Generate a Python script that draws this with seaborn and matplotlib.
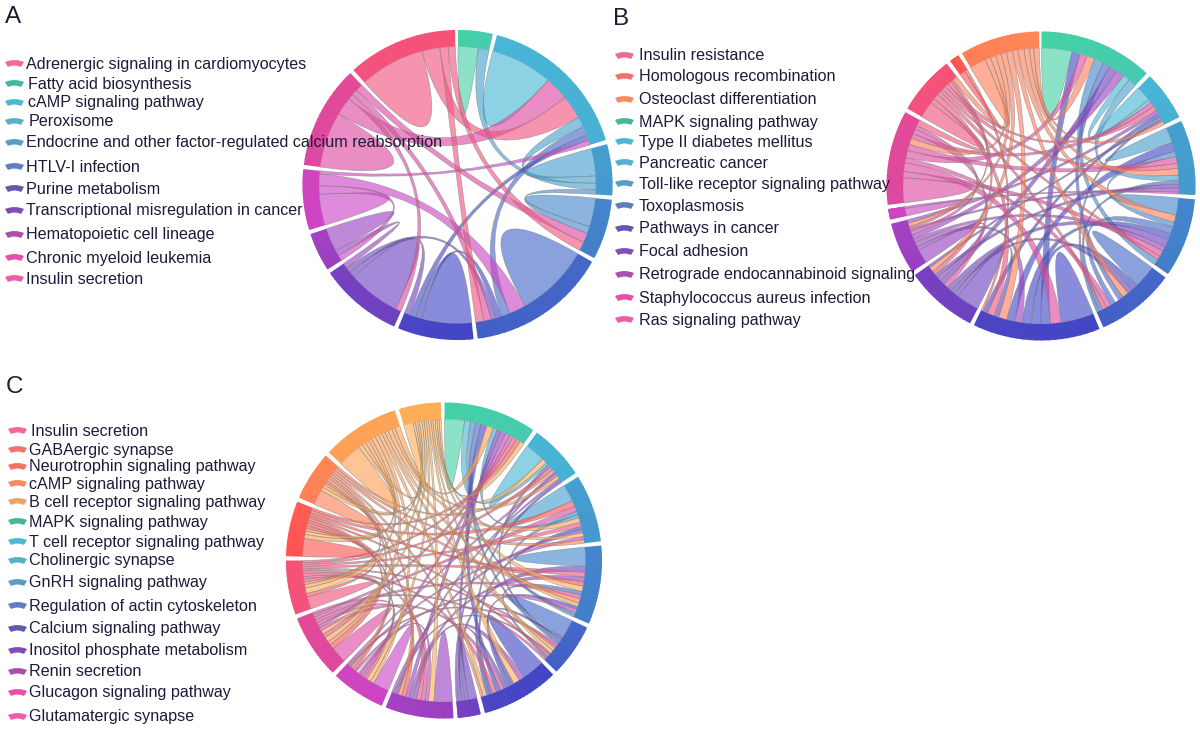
import numpy as np
import seaborn as sns
import matplotlib.pyplot as plt
from matplotlib.path import Path
from matplotlib.patches import PathPatch

sns.set_theme(style='white')
plt.rcParams['font.family'] = ['Liberation Sans', 'DejaVu Sans']

wheel = ['#45D1A5', '#48B6D6', '#459FCF', '#4486CB', '#4468C8', '#4146C5', '#6D41C1', '#9840C1',
         '#CC44C6', '#DD48A0', '#F2527F', '#FF5252', '#FF7F57', '#FFA056', '#FFAE57']
legend_tail = ['#46B79B', '#4CBACE', '#5AB0CB', '#5C9BC3', '#5F7EBF', '#5D5BAE', '#7F4FB3', '#AB50A8', '#E650A8',
               '#EC5FA8']

# panel A
labels_a = ['Adrenergic signaling in cardiomyocytes', 'Fatty acid biosynthesis', 'cAMP signaling pathway',
            'Peroxisome', 'Endocrine and other factor-regulated calcium reabsorption', 'HTLV-I infection',
            'Purine metabolism', 'Transcriptional misregulation in cancer', 'Hematopoietic cell lineage',
            'Chronic myeloid leukemia', 'Insulin secretion']
sizes_a = [13, 58.4, 19.2, 22.7, 52.8, 28.5, 31.3, 14.6, 22.8, 38.8, 41.3]
slots_a = [
    [(0, 8.5), (2, 4.5)],
    [(1, 26), (9, 10), (10, 10), (2, 4.3), (4, 3.7), (5, 2.3), (8, 2)],
    [(2, 11.5), (1, 3), (0, 2.7), (3, 2)],
    [(3, 12), (2, 3), (9, 4), (10, 3.7)],
    [(4, 31), (8, 7), (1, 3.7), (5, 2.5), (6, 2), (9, 3), (10, 3.5)],
    [(5, 21), (4, 2.5), (1, 2.5), (6, 2.5)],
    [(9, 2.5), (6, 22), (5, 2.3), (4, 2.3), (7, 2.2)],
    [(8, 2.4), (6, 2.2), (7, 10)],
    [(8, 13), (7, 3.5), (4, 5), (1, 1.3)],
    [(9, 23.5), (1, 7.5), (6, 2.4), (4, 2.5), (3, 3)],
    [(10, 27.4), (1, 7.5), (4, 3.5), (3, 3)],
]

# panel B
labels_b = ['Insulin resistance', 'Homologous recombination', 'Osteoclast differentiation', 'MAPK signaling pathway',
            'Type II diabetes mellitus', 'Pancreatic cancer', 'Toll-like receptor signaling pathway', 'Toxoplasmosis',
            'Pathways in cancer', 'Focal adhesion', 'Retrograde endocannabinoid signaling',
            'Staphylococcus aureus infection', 'Ras signaling pathway']
sizes_b = [43, 18.8, 28.3, 29.8, 29.9, 48, 27.5, 19.5, 4, 35.6, 22.3, 3.7, 30.1]
slots_b = [
    [(0, 13), (5, 3.5), (9, 3), (12, 3.5), (3, 4), (4, 3), (6, 3.5), (7, 3.5), (1, 3), (2, 3.5)],
    [(1, 6.5), (0, 1.5), (9, 2), (10, 2), (7, 1.5), (5, 1.5), (4, 1.2), (6, 1), (12, 1.6)],
    [(2, 6), (5, 3.5), (3, 2), (9, 2.5), (10, 2), (12, 2.5), (0, 2), (4, 1.5), (6, 1.5), (7, 1.5), (8, 0.8)],
    [(3, 7), (12, 3), (2, 2), (4, 3), (5, 2.5), (6, 3), (7, 2), (9, 2.5), (10, 1.5), (0, 2.5)],
    [(4, 9), (5, 2.5), (6, 2), (12, 2.5), (0, 2), (7, 1.5), (3, 2), (9, 2), (10, 1.5), (2, 1.5), (1, 1.2)],
    [(5, 14), (9, 4.5), (0, 4), (4, 4), (3, 4), (7, 3), (2, 3.5), (12, 3.5), (6, 2), (10, 3), (1, 2), (11, 1)],
    [(6, 9), (5, 2), (4, 1.5), (3, 2), (9, 2), (0, 2), (7, 1.5), (2, 1.5), (10, 1.5), (12, 2), (1, 1)],
    [(7, 6), (6, 1.5), (5, 2), (3, 1.5), (0, 2), (9, 1.5), (2, 1), (10, 1), (12, 1.5), (1, 1.5)],
    [(8, 3), (2, 0.7)],
    [(9, 10), (3, 2.5), (5, 3.5), (4, 2), (0, 3), (2, 2.5), (12, 2.5), (1, 2), (6, 2), (7, 1.5), (10, 2.5)],
    [(10, 6.5), (9, 2), (5, 2.2), (4, 1.5), (3, 1.2), (2, 1.5), (1, 1.5), (6, 1.5), (7, 1), (12, 2)],
    [(11, 2.4), (5, 1.3)],
    [(12, 7), (10, 2.3), (9, 2.3), (7, 2.3), (6, 2.3), (5, 2.6), (4, 2.3), (3, 2.6), (2, 2.3), (1, 1.8), (0, 2.3)],
]

# panel C
labels_c = ['Insulin secretion', 'GABAergic synapse', 'Neurotrophin signaling pathway', 'cAMP signaling pathway',
            'B cell receptor signaling pathway', 'MAPK signaling pathway', 'T cell receptor signaling pathway',
            'Cholinergic synapse', 'GnRH signaling pathway', 'Regulation of actin cytoskeleton',
            'Calcium signaling pathway', 'Inositol phosphate metabolism', 'Renin secretion',
            'Glucagon signaling pathway', 'Glutamatergic synapse']
sizes_c = [34.2, 20.5, 25, 29, 19.6, 28.7, 8.5, 25.1, 20, 23.7, 20, 20.3, 18.2, 28.7, 15.5]
slots_c = [
    [(0, 8), (1, 2.4), (3, 2), (4, 2.2), (5, 2.4), (13, 2.6), (2, 1.8), (6, 1.6), (7, 2), (8, 1.8), (9, 1.4),
     (10, 1.6), (11, 1.8), (14, 1.7)],
    [(1, 8), (14, 2), (0, 1), (4, 1.2), (10, 1.5), (12, 1.2), (6, 0.8), (8, 1), (13, 1.3), (7, 0.8), (5, 1)],
    [(2, 6.5), (11, 2.2), (9, 2), (3, 1.4), (0, 1.2), (13, 1.8), (10, 1.6), (5, 1.2), (7, 1.2), (14, 1.4), (8, 1.2),
     (12, 1.4)],
    [(3, 8), (6, 2.5), (10, 2), (7, 2), (11, 1.8), (14, 2.2), (4, 1.6), (9, 1.6), (12, 1.8), (13, 1.6), (5, 1.2),
     (8, 1.4), (2, 1), (0, 1)],
    [(4, 8), (5, 1.2), (1, 1.2), (0, 1), (8, 1), (10, 1), (13, 1.4), (14, 1.4), (7, 0.8), (11, 1), (3, 1), (9, 1)],
    [(5, 9), (7, 2.4), (14, 2.6), (4, 1.4), (3, 1.6), (6, 1.4), (9, 1.6), (0, 1.8), (10, 1.6), (2, 1.2), (1, 1.2),
     (13, 1.6), (12, 1)],
    [(6, 3.5), (0, 1.4), (5, 1.4), (3, 1.2), (1, 1)],
    [(7, 7.5), (14, 2.2), (8, 1.4), (9, 1.6), (10, 1.8), (5, 1.6), (3, 1.4), (0, 1.6), (11, 1.6), (12, 1.4), (1, 0.8),
     (4, 0.8), (2, 1.2)],
    [(8, 7), (13, 1.6), (14, 1.8), (10, 1.2), (9, 1.2), (0, 1.2), (7, 1), (5, 0.8), (3, 1), (11, 1.2), (12, 1),
     (2, 0.8), (4, 0.8), (1, 0.6)],
    [(9, 6.5), (11, 2), (12, 1.4), (13, 2), (10, 1.6), (14, 1.4), (5, 1.4), (0, 1), (7, 1.2), (8, 1.2), (3, 1.2),
     (2, 1), (4, 1)],
    [(10, 5), (11, 1.4), (14, 2.2), (13, 1.4), (12, 1), (9, 1.2), (8, 1), (7, 1.2), (5, 1), (4, 0.8), (3, 1),
     (2, 0.9), (1, 0.8), (0, 0.8)],
    [(11, 7), (13, 1.6), (14, 1.2), (12, 1.1), (10, 1), (9, 1.2), (8, 1), (7, 1), (4, 0.8), (3, 1), (2, 1.2), (0, 1)],
    [(12, 6), (14, 1.4), (13, 1.2), (11, 1), (10, 0.8), (9, 1.2), (8, 0.9), (7, 1), (5, 0.9), (3, 1), (2, 1),
     (1, 0.9)],
    [(13, 9), (14, 1.4), (12, 1.4), (11, 1.4), (10, 1.2), (9, 1.6), (8, 1.4), (5, 1.3), (4, 1.2), (3, 1.3), (2, 1.5),
     (1, 1.2), (0, 2)],
    [(14, 4), (13, 1), (12, 0.9), (11, 0.8), (10, 1.1), (9, 0.9), (8, 0.9), (7, 1), (5, 1), (4, 0.8), (3, 1),
     (2, 0.8), (1, 0.9), (0, 0.9)],
]

GAP = 1.55


def pos(cx, cy, r, deg):
    t = np.radians(deg)
    return cx + r * np.sin(t), cy - r * np.cos(t)


def arc(cx, cy, r, d0, d1, n=24):
    return [pos(cx, cy, r, d) for d in np.linspace(d0, d1, n)]


def chord(ax, cx, cy, r_out, r_in, sizes, slots):
    n = len(sizes)
    ends = {}
    start = 0.2
    for i in range(n):
        # colour drifts a little towards the next one along the ring
        nxt = wheel[min(i + 1, 14)]
        ramp = sns.blend_palette([wheel[i], sns.blend_palette([wheel[i], nxt], 5)[1]], 20)
        stop = start + sizes[i]
        cuts = np.linspace(start, stop, 21)
        for k in range(20):
            far = min(cuts[k + 1] + 0.5, stop)
            pts = arc(cx, cy, r_out, cuts[k], far, 4) + arc(cx, cy, r_in, far, cuts[k], 4)
            ax.fill(*zip(*pts), color=ramp[k], lw=0, zorder=3)
        total = sum(w for _, w in slots[i])
        a = start
        for partner, w in slots[i]:
            b = a + w * sizes[i] / total
            ends.setdefault((i, partner), (a, b))
            a = b
        start = stop + GAP

    keys = sorted(ends, key=lambda k: max(k))
    for i, j in keys:
        if i > j or (j, i) not in ends:
            continue
        a0, a1 = ends[(i, j)]
        b0, b1 = ends[(j, i)]
        pts = arc(cx, cy, r_in, a0, a1)
        codes = [Path.MOVETO] + [Path.LINETO] * (len(pts) - 1)
        if i != j:
            side = arc(cx, cy, r_in, b0, b1)
            pts += [(cx, cy), side[0]] + side[1:]
            codes += [Path.CURVE3, Path.CURVE3] + [Path.LINETO] * (len(side) - 1)
        pts += [(cx, cy), pts[0]]
        codes += [Path.CURVE3, Path.CURVE3]
        ax.add_patch(PathPatch(Path(pts, codes), facecolor=sns.set_hls_values(wheel[max(i, j)]) + (0.62,),
                               edgecolor=(0.5, 0.5, 0.5, 0.6), lw=0.5, zorder=2))


def legend(ax, labels, colors, x_box, x_text, ys, size):
    for text, col, x, y in zip(labels, colors, x_text, ys):
        m = x_box + 9.5
        pts = [(x_box, y - 1), (m, y - 5), (x_box + 19, y - 1), (x_box + 16, y + 4), (m, y + 1), (x_box + 3, y + 4),
               (x_box, y - 1)]
        codes = [Path.MOVETO, Path.CURVE3, Path.CURVE3, Path.LINETO, Path.CURVE3, Path.CURVE3, Path.CLOSEPOLY]
        ax.add_patch(PathPatch(Path(pts, codes), facecolor=col, edgecolor='none', zorder=4))
        ax.text(x, y + 1, text, fontsize=size, color='#1b1b3a', va='center', ha='left', zorder=6)


fig = plt.figure(figsize=(12, 7.3), dpi=100)
ax = fig.add_axes([0, 0, 1, 1])
ax.set_xlim(0, 1200)
ax.set_ylim(730, 0)
ax.axis('off')

chord(ax, 457.5, 185, 155, 138.5, sizes_a, slots_a)
chord(ax, 1041, 186, 154.5, 138, sizes_b, slots_b)
chord(ax, 444, 560.5, 158, 141.5, sizes_c, slots_c)

colors_a = ['#EF6B8F'] + legend_tail
colors_b = ['#EF6B8F', '#F47368', '#F58C62'] + legend_tail
colors_c = ['#EF6B8F', '#F4736C', '#F47368', '#F58C62', '#F0A263'] + legend_tail

legend(ax, labels_a, colors_a, 5, [26, 28, 28, 29, 26, 26, 26, 26, 26, 26, 26],
       [63, 83, 102, 121, 142, 166, 188, 210, 234, 257, 278], 11.6)
legend(ax, labels_b, colors_b, 615, [639] * 13,
       [55, 76, 99, 121, 141, 162, 183, 205, 228, 251, 274, 297, 319], 11.6)
legend(ax, labels_c, colors_c, 8, [31] + [29] * 14,
       [430, 449, 466, 483, 501, 521, 541, 560, 582, 605, 628, 650, 671, 692, 716], 11.6)

for letter, x, y in [('A', 5, 23), ('B', 613, 25), ('C', 6, 393)]:
    ax.text(x, y, letter, fontsize=17.5, color='#1b1b3a', va='baseline', ha='left')

plt.savefig('out.png', dpi=100)
